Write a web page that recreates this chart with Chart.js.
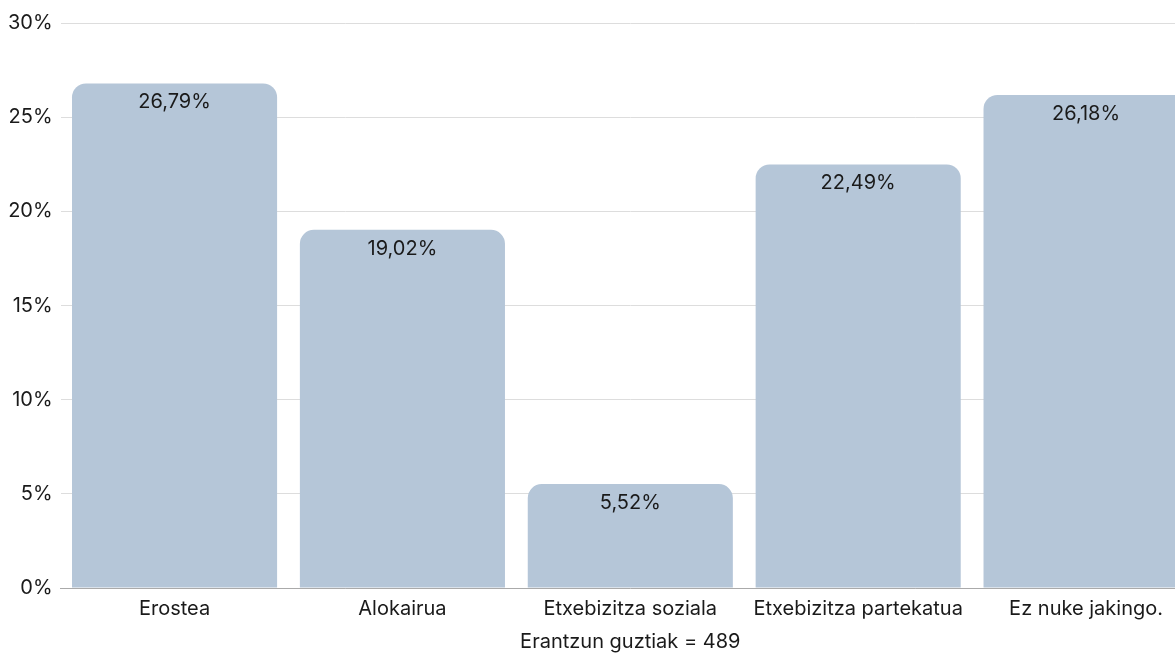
<!DOCTYPE html>
<html>
<head>
<meta charset="utf-8">
<script src="https://cdn.jsdelivr.net/npm/chart.js@4"></script>
<style>
    html, body { margin: 0; padding: 0; background: #fff; overflow: hidden; }
    #wrap { width: 1200px; height: 657px; }
</style>
</head>
<body>
<div id="wrap"><canvas id="chart" width="1200" height="657"></canvas></div>
<script>
// datos del gráfico
const categories = ['Erostea', 'Alokairua', 'Etxebizitza soziala', 'Etxebizitza partekatua', 'Ez nuke jakingo.'];
const values = [26.79, 19.02, 5.52, 22.49, 26.18];
const yTicks = [0, 5, 10, 15, 20, 25, 30];
const xTitle = 'Erantzun guztiak = 489';

const FONT = 'Inter, "DejaVu Sans", sans-serif';
const FSIZE = 20;

// etiquetas dentro de la barra, arriba
const barLabels = {
    id: 'barLabels',
    afterDatasetsDraw(chart) {
        const ctx = chart.ctx;
        const meta = chart.getDatasetMeta(0);
        ctx.save();
        ctx.font = FSIZE + 'px ' + FONT;
        ctx.fillStyle = '#1a1a1a';
        ctx.textAlign = 'center';
        ctx.textBaseline = 'middle';
        meta.data.forEach((bar, i) => {
            const txt = values[i].toFixed(2).replace('.', ',') + '%';
            ctx.fillText(txt, bar.x, bar.y + 19);
        });
        ctx.restore();
    }
};

new Chart(document.getElementById('chart').getContext('2d'), {
    type: 'bar',
    data: {
        labels: categories,
        datasets: [{
            data: values,
            backgroundColor: '#b5c6d8',
            borderRadius: { topLeft: 14, topRight: 14 },
            borderSkipped: 'bottom',
            barPercentage: 0.9,
            categoryPercentage: 1
        }]
    },
    options: {
        responsive: false,
        animation: false,
        layout: { padding: { top: 23, left: 0, right: 0, bottom: 3 } },
        plugins: {
            legend: { display: false },
            tooltip: { enabled: false }
        },
        scales: {
            x: {
                grid: { display: false, drawTicks: false },
                border: { color: '#aaaaaa', width: 1 },
                ticks: { color: '#1a1a1a', font: { family: FONT, size: FSIZE }, padding: 9, maxRotation: 0 },
                title: { display: true, text: xTitle, color: '#1a1a1a', font: { family: FONT, size: FSIZE }, padding: { top: 0, bottom: 0 } }
            },
            y: {
                min: yTicks[0],
                max: yTicks[yTicks.length - 1],
                afterBuildTicks(axis) { axis.ticks = yTicks.map(v => ({ value: v })); },
                grid: { color: '#dddddd', drawTicks: false },
                border: { display: false },
                ticks: { color: '#1a1a1a', font: { family: FONT, size: FSIZE }, padding: 8, callback: v => v + '%' }
            }
        }
    },
    plugins: [barLabels]
});
</script>
</body>
</html>
